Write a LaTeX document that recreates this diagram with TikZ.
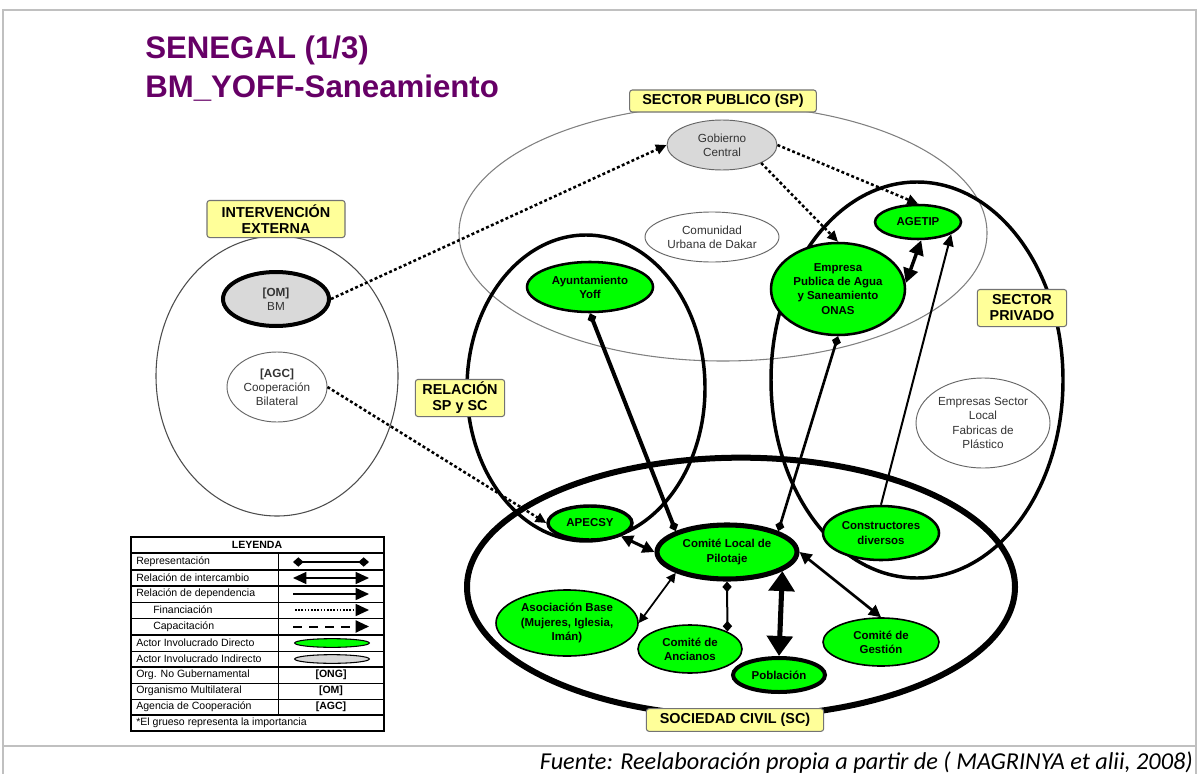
\documentclass[tikz,border=0pt]{standalone}
\usepackage{fontspec}
\setmainfont{Liberation Sans}
\newfontfamily\fuentefont{Carlito}
\usetikzlibrary{shapes.geometric,arrows.meta}

\definecolor{verde}{HTML}{00FF00}
\definecolor{grisnodo}{HTML}{D9D9D9}
\definecolor{amarillo}{HTML}{FFFF99}
\definecolor{morado}{HTML}{660066}
\definecolor{marco}{HTML}{C0C0C0}

\begin{document}
\begin{tikzpicture}[x=0.75pt,y=-0.75pt,
  region/.style={ellipse,draw,inner sep=0pt},
  sector/.style={draw=black!55,rounded corners=2pt,fill=amarillo,line width=0.8pt,align=center,inner sep=0pt,font=\fontsize{10.8}{12}\selectfont\bfseries},
  directo/.style={ellipse,draw,fill=verde,line width=1.9pt,inner sep=0pt,align=center,font=\fontsize{8.6}{10.6}\selectfont\bfseries},
  indirecto/.style={ellipse,draw=black!60,fill=grisnodo,line width=0.7pt,inner sep=0pt,align=center,text=black!80,font=\fontsize{8.8}{10.6}\selectfont},
  otro/.style={ellipse,draw=black!60,fill=white,line width=0.7pt,inner sep=0pt,align=center,text=black!80,font=\fontsize{8.8}{10.6}\selectfont},
  financ/.style={line width=1.9pt,dash pattern=on 2.2pt off 1.8pt,-{Triangle[length=8pt,width=7.5pt]}},
  interc/.style={line width=2pt,{Triangle[length=9pt,width=9pt]}-{Triangle[length=9pt,width=9pt]}},
  depend/.style={line width=1.5pt,-{Triangle[length=9pt,width=8pt]}},
  repres/.style={line width=2pt,{Diamond[length=8pt,width=7pt]}-{Diamond[length=8pt,width=7pt]}},
  leyenda/.style={inner sep=0pt,font=\fontsize{7.9}{9}\selectfont}
]
\useasboundingbox (0,0) rectangle (1199,774);

% marco y titulo
\draw [marco,line width=1.5pt] (3,774) -- (3,10) -- (1196,10) -- (1196,774);
\draw [marco,line width=1.5pt] (3,746) -- (1196,746);
\node [anchor=base west,inner sep=0pt,text=morado,font=\fontsize{23.4}{28}\selectfont\bfseries] (titulo1) at (145,59) {SENEGAL (1/3)};
\node [anchor=base west,inner sep=0pt,text=morado,font=\fontsize{23.4}{28}\selectfont\bfseries] (titulo2) at (145,98) {BM\_YOFF-Saneamiento};

% sectores
\node [region,draw=black!50,line width=0.8pt,minimum width=396pt,minimum height=192pt] (sp) at (723,233) {};
\node [region,draw=black!70,line width=0.8pt,minimum width=181.5pt,minimum height=210pt] (ie) at (277,376) {};
\node [region,line width=2.6pt,minimum width=178.5pt,minimum height=229.5pt] (rel) at (586,388) {};
\node [region,line width=2.6pt,minimum width=219pt,minimum height=297pt] (priv) at (917,380) {};
\node [region,line width=4.5pt,minimum width=411pt,minimum height=194pt] (sc) at (741,587) {};

\node [sector,minimum width=140pt,minimum height=16.5pt] (lsp) at (723,101) {SECTOR PUBLICO (SP)};
\node [sector,minimum width=103.5pt,minimum height=27.8pt] (lie) at (276,219) {INTERVENCIÓN\\EXTERNA};
\node [sector,minimum width=67pt,minimum height=27.8pt] (lrel) at (460,398) {RELACIÓN\\SP y SC};
\node [sector,minimum width=67pt,minimum height=27.8pt] (lpriv) at (1022,308) {SECTOR\\PRIVADO};
\node [sector,minimum width=133pt,minimum height=17pt] (lsc) at (735,720) {SOCIEDAD CIVIL (SC)};

% actores
\node [indirecto,minimum width=82.5pt,minimum height=37.5pt] (gobierno) at (722,145) {Gobierno\\Central};
\node [otro,minimum width=100.5pt,minimum height=37.5pt] (comunidad) at (712,237) {Comunidad\\Urbana de Dakar};
\node [indirecto,line width=3pt,draw=black,minimum width=79.5pt,minimum height=40.5pt] (bm) at (276,299) {\textbf{[OM]}\\BM};
\node [otro,minimum width=75pt,minimum height=52.5pt] (agc) at (277,387) {\textbf{[AGC]}\\Cooperación\\Bilateral};
\node [directo,minimum width=64.5pt,minimum height=25.5pt] (agetip) at (918,222) {AGETIP};
\node [directo,minimum width=100.5pt,minimum height=69pt] (onas) at (838,289) {Empresa\\Publica de Agua\\y Saneamiento\\ONAS};
\node [directo,minimum width=94.5pt,minimum height=37.5pt] (ayto) at (590,287) {Ayuntamiento\\Yoff};
\node [otro,minimum width=100.5pt,minimum height=67.5pt] (empresas) at (983,423) {Empresas Sector\\Local\\Fabricas de\\Plástico};
\node [directo,line width=2.6pt,minimum width=63pt,minimum height=25.5pt] (apecsy) at (590,523) {APECSY};
\node [directo,line width=3.8pt,minimum width=105pt,minimum height=40.5pt] (comite) at (727,552) {Comité Local de\\Pilotaje};
\node [directo,minimum width=87pt,minimum height=40.5pt] (constructores) at (881,533) {Constructores\\diversos};
\node [directo,line width=1.2pt,minimum width=106.5pt,minimum height=49.5pt] (asociacion) at (567,623) {Asociación Base\\(Mujeres, Iglesia,\\Imán)};
\node [directo,line width=1.2pt,minimum width=78pt,minimum height=36pt] (ancianos) at (690,649) {Comité de\\Ancianos};
\node [directo,line width=3pt,minimum width=69pt,minimum height=25.5pt] (poblacion) at (779,675) {Población};
\node [directo,line width=1.2pt,minimum width=87pt,minimum height=36pt] (gestion) at (881,642) {Comité de\\Gestión};

% relaciones
\draw [financ] (bm.east) -- (gobierno.west);
\draw [financ] (agc.east) -- (apecsy.west);
\draw [financ] (gobierno.east) -- (agetip.north);
\draw [financ] (gobierno.south east) -- (onas.north);
\draw [interc,line width=2.6pt,{Triangle[length=11pt,width=11pt]}-{Triangle[length=11pt,width=11pt]}] (onas.5) -- (agetip.-80);
\draw [depend] (constructores.north) -- (agetip.-20);
\draw [repres,line width=3pt] (comite.north west) -- (ayto.south);
\draw [repres] (comite.north east) -- (onas.south);
\draw [interc,line width=2.3pt] (comite.west) -- (apecsy.south east);
\draw [interc,line width=1.3pt,{Triangle[length=7pt,width=7pt]}-{Triangle[length=7pt,width=7pt]}] (comite.south west) -- (asociacion.east);
\draw [repres,line width=1.5pt] (comite.south) -- (ancianos.25);
\draw [interc,line width=3.8pt,{Triangle[length=15pt,width=19pt]}-{Triangle[length=15pt,width=19pt]}] (comite.-19) -- (poblacion.north);
\draw [interc] (comite.east) -- (gestion.north);

% leyenda
\draw [line width=1.5pt] (131,537) rectangle (384,731);
\draw [line width=1.2pt] (131,553) -- (384,553);
\draw [line width=1.2pt] (131,570) -- (384,570);
\draw [line width=1.2pt] (131,586) -- (384,586);
\draw [line width=0.6pt] (131,602) -- (384,602);
\draw [line width=0.6pt] (131,618) -- (384,618);
\draw [line width=1.2pt] (131,635) -- (384,635);
\draw [line width=0.6pt] (131,651) -- (384,651);
\draw [line width=1.2pt] (131,667) -- (384,667);
\draw [line width=0.6pt] (131,683) -- (384,683);
\draw [line width=0.6pt] (131,699) -- (384,699);
\draw [line width=1.2pt] (131,715) -- (384,715);
\draw [line width=0.6pt] (278,553) -- (278,715);

\node [leyenda,font=\fontsize{7.9}{9}\selectfont\bfseries] (ley) at (257,545) {LEYENDA};
\node [leyenda,anchor=west] (ley1) at (136,561.5) {Representación};
\node [leyenda,anchor=west] (ley2) at (136,578) {Relación de intercambio};
\node [leyenda,anchor=west] (ley3) at (136,594) {Relación de dependencia};
\node [leyenda,anchor=west] (ley4) at (153,610) {Financiación};
\node [leyenda,anchor=west] (ley5) at (153,626.5) {Capacitación};
\node [leyenda,anchor=west] (ley6) at (136,643) {Actor Involucrado Directo};
\node [leyenda,anchor=west] (ley7) at (136,659) {Actor Involucrado Indirecto};
\node [leyenda,anchor=west] (ley8) at (136,675) {Org. No Gubernamental};
\node [leyenda,anchor=west] (ley9) at (136,691) {Organismo Multilateral};
\node [leyenda,anchor=west] (ley10) at (136,707) {Agencia de Cooperación};
\node [leyenda,anchor=west] (ley11) at (136,723) {*El grueso representa la importancia};

\coordinate (s1a) at (293,562); \coordinate (s1b) at (369,562);
\coordinate (s2a) at (293,578); \coordinate (s2b) at (369,578);
\coordinate (s3a) at (293,594); \coordinate (s3b) at (369,594);
\coordinate (s4a) at (295,610); \coordinate (s4b) at (369,610);
\coordinate (s5a) at (293,626.5); \coordinate (s5b) at (369,626.5);
\draw [line width=1pt,{Diamond[length=8pt,width=7pt]}-{Diamond[length=8pt,width=7pt]}] (s1a) -- (s1b);
\draw [line width=1pt,{Triangle[length=10pt,width=9pt]}-{Triangle[length=10pt,width=9pt]}] (s2a) -- (s2b);
\draw [line width=1.2pt,-{Triangle[length=10pt,width=9pt]}] (s3a) -- (s3b);
\draw [line width=1.2pt,dash pattern=on 1.2pt off 1.2pt,-{Triangle[length=10pt,width=9pt]}] (s4a) -- (s4b);
\draw [line width=1.5pt,dash pattern=on 7pt off 5pt,-{Triangle[length=10pt,width=9pt]}] (s5a) -- (s5b);
\node [ellipse,draw,fill=verde,line width=0.8pt,inner sep=0pt,minimum width=56pt,minimum height=6.5pt] (sdir) at (332,643) {};
\node [ellipse,draw,fill=grisnodo,line width=0.8pt,inner sep=0pt,minimum width=56pt,minimum height=6.5pt] (sind) at (332,659) {};
\node [leyenda,font=\fontsize{7.9}{9}\selectfont\bfseries] (ong) at (331,675) {[ONG]};
\node [leyenda,font=\fontsize{7.9}{9}\selectfont\bfseries] (om) at (331,691) {[OM]};
\node [leyenda,font=\fontsize{7.9}{9}\selectfont\bfseries] (agcl) at (331,707) {[AGC]};

% fuente
\node [anchor=base east,inner sep=0pt,font=\fuentefont\itshape\fontsize{18.2}{22}\selectfont] (fuente) at (1193,769) {Fuente: Reelaboración propia a partir de ( MAGRINYA et alii, 2008)};
\end{tikzpicture}
\end{document}
